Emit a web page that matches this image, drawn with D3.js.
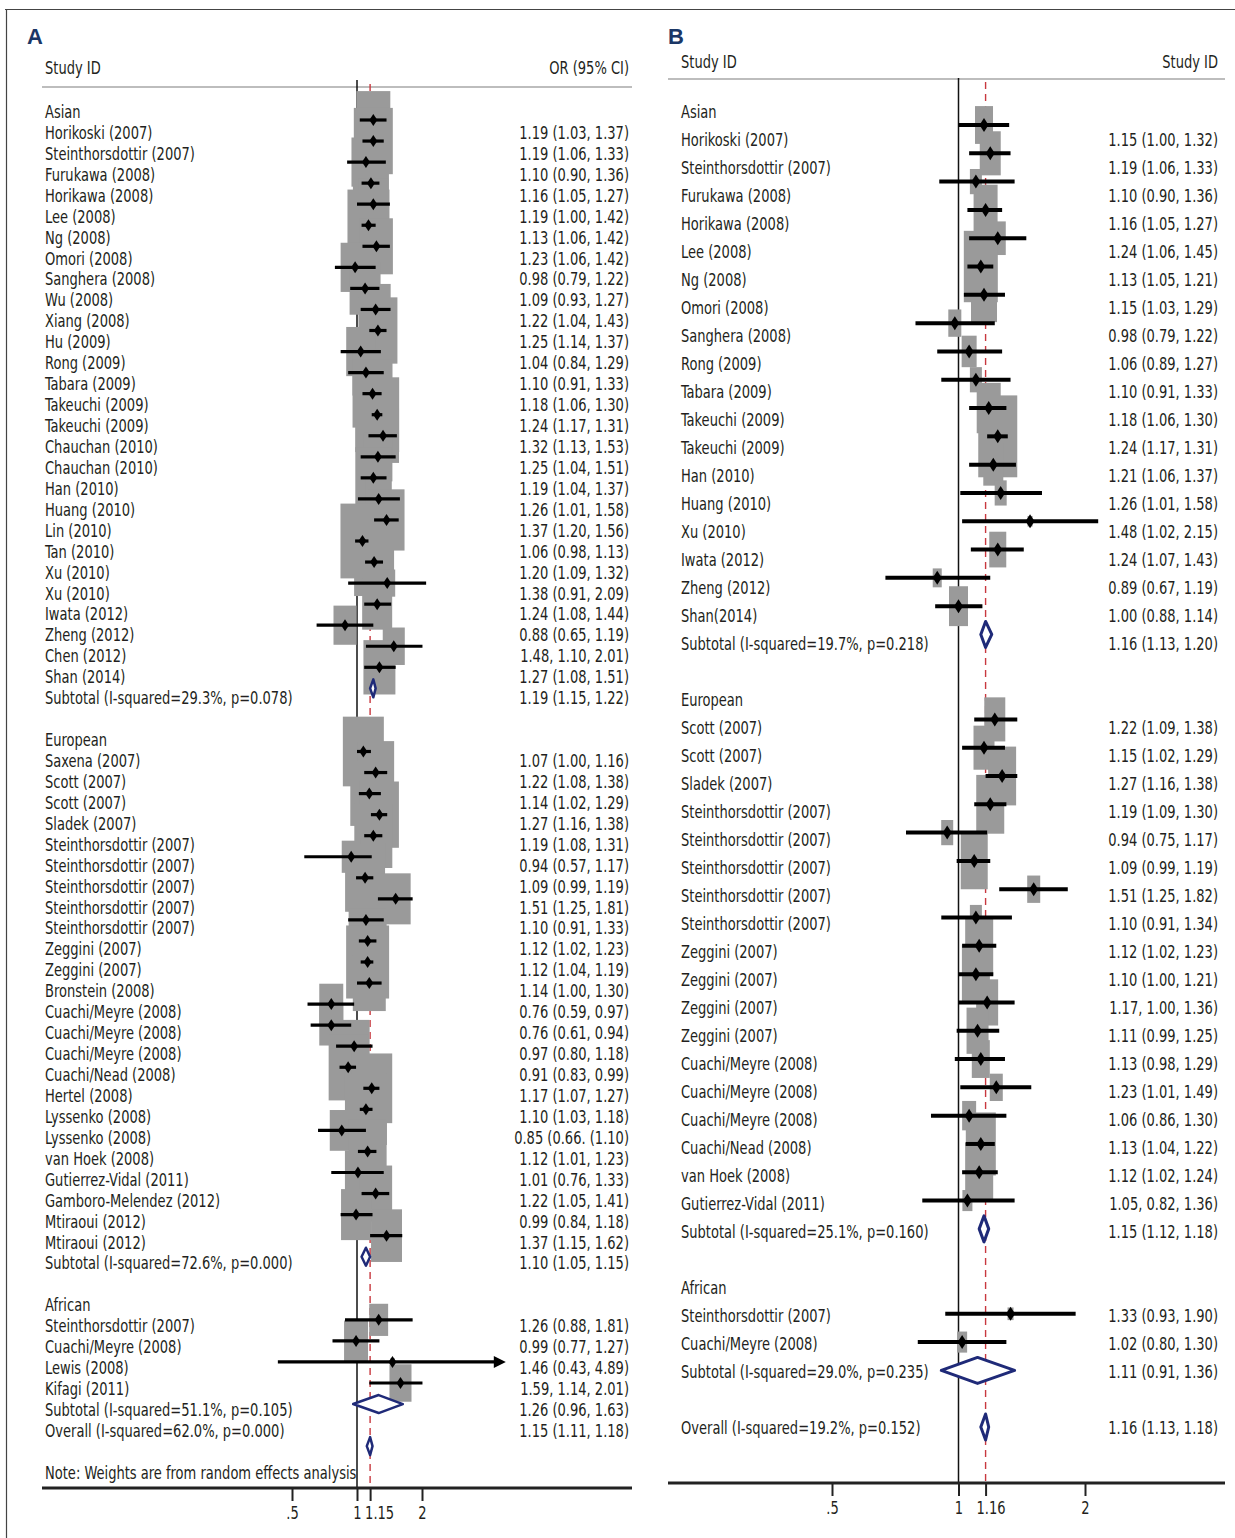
<!DOCTYPE html>
<html>
<head>
<meta charset="utf-8">
<script src="https://cdn.jsdelivr.net/npm/d3@7"></script>
<style>
  body { margin: 0; background: #fff; }
</style>
</head>
<body>
<div id="chart"></div>
<script>
// ---------- Panel A data ----------
const groupsA = ["Asian", "European", "African"];
const idsA = [
  "Horikoski (2007)", "Steinthorsdottir (2007)", "Furukawa (2008)", "Horikawa (2008)", "Lee (2008)",
  "Ng (2008)", "Omori (2008)", "Sanghera (2008)", "Wu (2008)", "Xiang (2008)", "Hu (2009)", "Rong (2009)",
  "Tabara (2009)", "Takeuchi (2009)", "Takeuchi (2009)", "Chauchan (2010)", "Chauchan (2010)", "Han (2010)",
  "Huang (2010)", "Lin (2010)", "Tan (2010)", "Xu (2010)", "Xu (2010)", "Iwata (2012)", "Zheng (2012)",
  "Chen (2012)", "Shan (2014)",
  "Saxena (2007)", "Scott (2007)", "Scott (2007)", "Sladek (2007)", "Steinthorsdottir (2007)",
  "Steinthorsdottir (2007)", "Steinthorsdottir (2007)", "Steinthorsdottir (2007)", "Steinthorsdottir (2007)",
  "Zeggini (2007)", "Zeggini (2007)", "Bronstein (2008)", "Cuachi/Meyre (2008)", "Cuachi/Meyre (2008)",
  "Cuachi/Meyre (2008)", "Cuachi/Nead (2008)", "Hertel (2008)", "Lyssenko (2008)", "Lyssenko (2008)",
  "van Hoek (2008)", "Gutierrez-Vidal (2011)", "Gamboro-Melendez (2012)", "Mtiraoui (2012)", "Mtiraoui (2012)",
  "Steinthorsdottir (2007)", "Cuachi/Meyre (2008)", "Lewis (2008)", "Kifagi (2011)"
];
const grpA = [
  0,0,0,0,0,0,0,0,0,0,0,0,0,0,0,0,0,0,0,0,0,0,0,0,0,0,0,
  1,1,1,1,1,1,1,1,1,1,1,1,1,1,1,1,1,1,1,1,1,1,1,1,
  2,2,2,2
];
const orA = [
  1.19,1.19,1.10,1.16,1.19,1.13,1.23,0.98,1.09,1.22,1.25,1.04,1.10,1.18,1.24,1.32,1.25,1.19,1.26,1.37,1.06,1.20,1.38,1.24,0.88,1.48,1.27,
  1.07,1.22,1.14,1.27,1.19,0.94,1.09,1.51,1.10,1.12,1.12,1.14,0.76,0.76,0.97,0.91,1.17,1.10,0.85,1.12,1.01,1.22,0.99,1.37,
  1.26,0.99,1.46,1.59
];
const loA = [
  1.03,1.06,0.90,1.05,1.00,1.05,1.06,0.79,0.93,1.04,1.14,0.84,0.91,1.06,1.17,1.13,1.04,1.04,1.01,1.20,0.98,1.09,0.91,1.08,0.65,1.10,1.08,
  1.00,1.08,1.02,1.16,1.08,0.57,0.99,1.25,0.91,1.02,1.04,1.00,0.59,0.61,0.80,0.83,1.07,1.03,0.66,1.01,0.76,1.05,0.84,1.15,
  0.88,0.77,0.43,1.14
];
const hiA = [
  1.37,1.33,1.36,1.27,1.42,1.22,1.42,1.22,1.27,1.43,1.37,1.29,1.33,1.30,1.31,1.53,1.51,1.37,1.58,1.56,1.13,1.32,2.09,1.44,1.19,2.01,1.51,
  1.16,1.38,1.29,1.38,1.31,1.17,1.19,1.81,1.33,1.23,1.19,1.30,0.97,0.94,1.18,0.99,1.27,1.18,1.10,1.23,1.33,1.41,1.18,1.62,
  1.81,1.27,4.89,2.01
];
// relative study weights (box area)
const wtA = [
  1.81,2.38,1.31,2.03,1.41,2.76,1.70,1.31,1.50,1.41,2.38,1.31,1.14,2.50,3.03,1.60,1.31,2.03,1.06,2.03,3.03,2.50,0.40,1.41,0.83,0.76,1.60,
  2.63,2.14,2.26,2.38,2.26,0.56,2.50,1.41,1.41,2.26,2.89,1.70,0.90,0.90,1.50,2.38,2.63,2.76,0.90,2.26,1.06,1.70,1.41,1.50,
  0.56,0.90,0.03,0.76
];
// printed CI text where it differs from the plain format
const ciTextFixA = { 5: "1.13 (1.06, 1.42)", 25: "1.48, 1.10, 2.01)", 45: "0.85 (0.66. (1.10)", 54: "1.59, 1.14, 2.01)" };
const subLabelA = ["Subtotal (I-squared=29.3%, p=0.078)", "Subtotal (I-squared=72.6%, p=0.000)", "Subtotal (I-squared=51.1%, p=0.105)"];
const subOrA = [1.19, 1.10, 1.26];
const subLoA = [1.15, 1.05, 0.96];
const subHiA = [1.22, 1.15, 1.63];
const overallA = ["Overall (I-squared=62.0%, p=0.000)", 1.15, 1.11, 1.18];
const ticksA = [0.5, 1, 1.15, 2];
const tickLabelsA = [".5", "1", "1.15", "2"];

// ---------- Panel B data ----------
const groupsB = ["Asian", "European", "African"];
const idsB = [
  "Horikoski (2007)", "Steinthorsdottir (2007)", "Furukawa (2008)", "Horikawa (2008)", "Lee (2008)", "Ng (2008)",
  "Omori (2008)", "Sanghera (2008)", "Rong (2009)", "Tabara (2009)", "Takeuchi (2009)", "Takeuchi (2009)",
  "Han (2010)", "Huang (2010)", "Xu (2010)", "Iwata (2012)", "Zheng (2012)", "Shan(2014)",
  "Scott (2007)", "Scott (2007)", "Sladek (2007)", "Steinthorsdottir (2007)", "Steinthorsdottir (2007)",
  "Steinthorsdottir (2007)", "Steinthorsdottir (2007)", "Steinthorsdottir (2007)", "Zeggini (2007)",
  "Zeggini (2007)", "Zeggini (2007)", "Zeggini (2007)", "Cuachi/Meyre (2008)", "Cuachi/Meyre (2008)",
  "Cuachi/Meyre (2008)", "Cuachi/Nead (2008)", "van Hoek (2008)", "Gutierrez-Vidal (2011)",
  "Steinthorsdottir (2007)", "Cuachi/Meyre (2008)"
];
const grpB = [
  0,0,0,0,0,0,0,0,0,0,0,0,0,0,0,0,0,0,
  1,1,1,1,1,1,1,1,1,1,1,1,1,1,1,1,1,1,
  2,2
];
const orB = [
  1.15,1.19,1.10,1.16,1.24,1.13,1.15,0.98,1.06,1.10,1.18,1.24,1.21,1.26,1.48,1.24,0.89,1.00,
  1.22,1.15,1.27,1.19,0.94,1.09,1.51,1.10,1.12,1.10,1.17,1.11,1.13,1.23,1.06,1.13,1.12,1.05,
  1.33,1.02
];
const loB = [
  1.00,1.06,0.90,1.05,1.06,1.05,1.03,0.79,0.89,0.91,1.06,1.17,1.06,1.01,1.02,1.07,0.67,0.88,
  1.09,1.02,1.16,1.09,0.75,0.99,1.25,0.91,1.02,1.00,1.00,0.99,0.98,1.01,0.86,1.04,1.02,0.82,
  0.93,0.80
];
const hiB = [
  1.32,1.33,1.36,1.27,1.45,1.21,1.29,1.22,1.27,1.33,1.30,1.31,1.37,1.58,2.15,1.43,1.19,1.14,
  1.38,1.29,1.38,1.30,1.17,1.19,1.82,1.34,1.23,1.21,1.36,1.25,1.29,1.49,1.30,1.22,1.24,1.36,
  1.90,1.30
];
const wtB = [
  2.68,3.64,1.19,4.76,2.12,9.55,5.59,1.40,1.86,1.19,4.76,12.57,3.31,1.19,0.21,2.39,0.67,2.98,
  3.64,3.64,6.48,6.48,1.19,6.02,1.40,1.19,6.48,6.48,4.00,4.00,2.68,1.40,1.62,7.44,6.48,0.83,
  0.30,0.83
];
const ciTextFixB = { 28: "1.17, 1.00, 1.36)", 35: "1.05, 0.82, 1.36)" };
const subLabelB = ["Subtotal (I-squared=19.7%, p=0.218)", "Subtotal (I-squared=25.1%, p=0.160)", "Subtotal (I-squared=29.0%, p=0.235)"];
const subOrB = [1.16, 1.15, 1.11];
const subLoB = [1.13, 1.12, 0.91];
const subHiB = [1.20, 1.18, 1.36];
const overallB = ["Overall (I-squared=19.2%, p=0.152)", 1.16, 1.13, 1.18];
const ticksB = [0.5, 1, 1.16, 2];
const tickLabelsB = [".5", "1", "1.16", "2"];

// ---------- drawing ----------
const width = 1235, height = 1538;
const FONT = '"Liberation Sans Narrow","Arial Narrow","DejaVu Sans Condensed","Liberation Sans",sans-serif';
const TXT = "#231f20";
const NAVY = "#1f2a78";

const svg = d3.select("#chart").append("svg")
    .attr("width", width)
    .attr("height", height)
    .attr("viewBox", [0, 0, width, height]);

// squeeze the font so labels get the condensed look of the original
const probe = svg.append("text").attr("font-family", FONT).attr("font-size", 17).text("Steinthorsdottir (2007)");
const sx = 150 / probe.node().getComputedTextLength();
probe.remove();

function label(g, x, y, str, anchor) {
  g.append("text")
      .attr("transform", `translate(${x},${y}) scale(${sx},1)`)
      .attr("font-family", FONT)
      .attr("font-size", 17)
      .attr("fill", TXT)
      .attr("dy", "0.35em")
      .attr("text-anchor", anchor || "start")
      .text(str);
}

const fmt = d3.format(".2f");

// outer frame: top rule and left rule
svg.append("line").attr("x1", 5).attr("x2", width).attr("y1", 9.5).attr("y2", 9.5)
    .attr("stroke", "#444").attr("stroke-width", 1.2);
svg.append("line").attr("x1", 6.5).attr("x2", 6.5).attr("y1", 9).attr("y2", height)
    .attr("stroke", "#444").attr("stroke-width", 1.2);

const panels = [
  {
    letter: "A", letterX: 27, left: 42, right: 632, labelX: 45, valueX: 629,
    hdrY: 68, hdrLineY: 87, hdrRight: "OR (95% CI)", lineTop: 80,
    x: d3.scaleLog().domain([0.5, 2]).range([292, 422]),
    yText: d3.scaleLinear().domain([0, 63]).range([112, 1431]),
    yMark: d3.scaleLinear().domain([1, 61]).range([120, 1383]),
    axisY: 1488, boxAspect: 1.7, boxMax: 44, ciW: 3.2, dotW: 4, dotH: 6, diaH: 18, diaW: 2.5,
    overallTextGap: 0, overallMarkGap: 1, note: "Note: Weights are from random effects analysis",
    refLabelDx: 9,
    groups: groupsA, ids: idsA, grp: grpA, or: orA, lo: loA, hi: hiA, wt: wtA, fix: ciTextFixA,
    subLabel: subLabelA, subOr: subOrA, subLo: subLoA, subHi: subHiA, overall: overallA,
    ticks: ticksA, tickLabels: tickLabelsA, ref: overallA[1]
  },
  {
    letter: "B", letterX: 668, left: 668, right: 1225, labelX: 681, valueX: 1218,
    hdrY: 62, hdrLineY: 79, hdrRight: "Study ID", lineTop: 78,
    x: d3.scaleLog().domain([0.5, 2]).range([832, 1085]),
    yText: d3.scaleLinear().domain([1, 47]).range([140, 1428]),
    yMark: d3.scaleLinear().domain([1, 47]).range([125, 1427]),
    axisY: 1483, boxAspect: 2.1, boxMax: 39, ciW: 4, dotW: 4.5, dotH: 7, diaH: 26, diaW: 3,
    overallTextGap: 1, overallMarkGap: 1, note: null,
    refLabelDx: 5,
    groups: groupsB, ids: idsB, grp: grpB, or: orB, lo: loB, hi: hiB, wt: wtB, fix: ciTextFixB,
    subLabel: subLabelB, subOr: subOrB, subLo: subLoB, subHi: subHiB, overall: overallB,
    ticks: ticksB, tickLabels: tickLabelsB, ref: overallB[1]
  }
];

panels.forEach(p => {
  const g = svg.append("g");
  const x = p.x;

  // build the row layout: heading, studies, subtotal, blank line ...
  const studies = [], subs = [], heads = [];
  let r = 0;
  p.groups.forEach((name, gi) => {
    if (gi > 0) r += 1;
    heads.push({ name, row: r }); r++;
    p.ids.forEach((id, i) => {
      if (p.grp[i] !== gi) return;
      studies.push({
        id, row: r, or: p.or[i], lo: p.lo[i], hi: p.hi[i], wt: p.wt[i],
        txt: p.fix[i] || `${fmt(p.or[i])} (${fmt(p.lo[i])}, ${fmt(p.hi[i])})`
      });
      r++;
    });
    subs.push({
      id: p.subLabel[gi], row: r, or: p.subOr[gi], lo: p.subLo[gi], hi: p.subHi[gi],
      txt: `${fmt(p.subOr[gi])} (${fmt(p.subLo[gi])}, ${fmt(p.subHi[gi])})`
    });
    r++;
  });
  const [oLab, oOr, oLo, oHi] = p.overall;
  const overall = {
    id: oLab, row: r + p.overallTextGap, mrow: r + p.overallMarkGap, or: oOr, lo: oLo, hi: oHi,
    txt: `${fmt(oOr)} (${fmt(oLo)}, ${fmt(oHi)})`
  };

  // panel letter
  g.append("text")
      .attr("x", p.letterX).attr("y", 36)
      .attr("dy", "0.35em")
      .attr("font-family", '"Liberation Sans","DejaVu Sans",sans-serif')
      .attr("font-weight", "bold")
      .attr("font-size", 22)
      .attr("fill", "#1b3766")
      .text(p.letter);

  // header
  label(g, p.labelX, p.hdrY, "Study ID");
  label(g, p.valueX, p.hdrY, p.hdrRight, "end");
  g.append("line")
      .attr("x1", p.left).attr("x2", p.right)
      .attr("y1", p.hdrLineY).attr("y2", p.hdrLineY)
      .attr("stroke", "#bdbdbd").attr("stroke-width", 2);

  // null line and overall estimate line
  g.append("line")
      .attr("x1", x(1)).attr("x2", x(1))
      .attr("y1", p.lineTop).attr("y2", p.axisY)
      .attr("stroke", "#111").attr("stroke-width", 1.5);
  g.append("line")
      .attr("x1", x(p.ref)).attr("x2", x(p.ref))
      .attr("y1", p.lineTop + 4).attr("y2", p.axisY)
      .attr("stroke", "#c8383f").attr("stroke-width", 1.4)
      .attr("stroke-dasharray", "7,5");

  // weight boxes
  const side = d3.scaleSqrt().domain([0, d3.max(p.wt)]).range([0, p.boxMax]);
  g.append("g")
    .selectAll("rect")
    .data(studies)
    .join("rect")
      .attr("x", d => x(d.or) - side(d.wt) / 2)
      .attr("y", d => p.yMark(d.row) - side(d.wt) * p.boxAspect / 2)
      .attr("width", d => side(d.wt))
      .attr("height", d => side(d.wt) * p.boxAspect)
      .attr("fill", "#9a9a9a");

  // confidence intervals
  const xMaxData = x.invert(p.right);
  g.append("g")
    .selectAll("line")
    .data(studies)
    .join("line")
      .attr("x1", d => x(d.lo))
      .attr("x2", d => x(d.hi) - (d.hi > 4 ? 8 : 0))
      .attr("y1", d => p.yMark(d.row))
      .attr("y2", d => p.yMark(d.row))
      .attr("stroke", "#000")
      .attr("stroke-width", p.ciW);

  // arrow heads for clipped intervals
  g.append("g")
    .selectAll("path")
    .data(studies.filter(d => d.hi > 4 && d.hi < xMaxData))
    .join("path")
      .attr("d", d => {
        const xe = x(d.hi), y = p.yMark(d.row);
        return `M${xe},${y}L${xe - 12},${y - 6}L${xe - 12},${y + 6}Z`;
      })
      .attr("fill", "#000");

  // point estimates
  g.append("g")
    .selectAll("path")
    .data(studies)
    .join("path")
      .attr("d", d => {
        const cx = x(d.or), cy = p.yMark(d.row);
        return `M${cx - p.dotW},${cy}L${cx},${cy - p.dotH}L${cx + p.dotW},${cy}L${cx},${cy + p.dotH}Z`;
      })
      .attr("fill", "#000");

  // pooled diamonds
  const pooled = subs.map(d => ({ ...d, mrow: d.row })).concat([overall]);
  g.append("g")
    .selectAll("path")
    .data(pooled)
    .join("path")
      .attr("d", d => {
        const cy = p.yMark(d.mrow), h = p.diaH / 2;
        return `M${x(d.lo)},${cy}L${x(d.or)},${cy - h}L${x(d.hi)},${cy}L${x(d.or)},${cy + h}Z`;
      })
      .attr("fill", "#fff")
      .attr("stroke", NAVY)
      .attr("stroke-width", p.diaW)
      .attr("stroke-linejoin", "round");

  // text columns
  heads.forEach(d => label(g, p.labelX, p.yText(d.row), d.name));
  studies.concat(subs, [overall]).forEach(d => {
    label(g, p.labelX, p.yText(d.row), d.id);
    label(g, p.valueX, p.yText(d.row), d.txt, "end");
  });
  if (p.note) label(g, p.labelX, p.yText(overall.row + 2), p.note);

  // x axis
  g.append("line")
      .attr("x1", p.left).attr("x2", p.right)
      .attr("y1", p.axisY).attr("y2", p.axisY)
      .attr("stroke", "#222").attr("stroke-width", 3);
  const ax = g.append("g")
      .attr("transform", `translate(0,${p.axisY})`)
      .call(d3.axisBottom(x)
          .tickValues(p.ticks)
          .tickFormat((d, i) => p.tickLabels[i])
          .tickSize(13)
          .tickPadding(6))
      .call(a => a.select(".domain").remove());
  ax.selectAll(".tick line").attr("stroke", "#222").attr("stroke-width", 2);
  ax.selectAll(".tick text")
      .attr("font-family", FONT)
      .attr("font-size", 17)
      .attr("fill", TXT)
      .attr("transform", d => `translate(${d === p.ref ? p.refLabelDx : 0},0) scale(${sx},1)`)
      .attr("x", 0);
});
</script>
</body>
</html>
